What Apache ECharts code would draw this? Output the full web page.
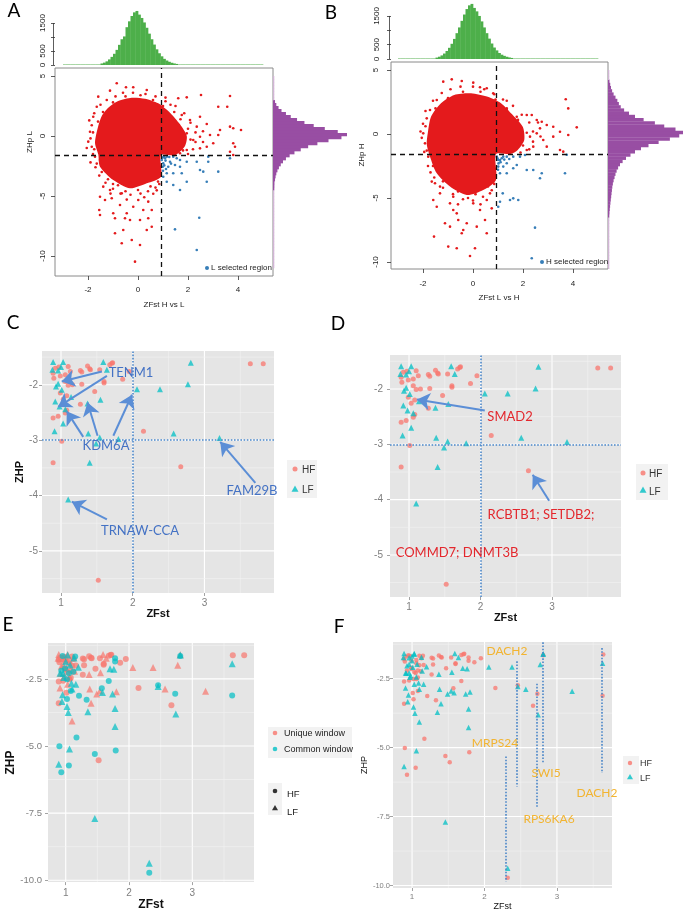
<!DOCTYPE html>
<html><head><meta charset="utf-8">
<script src="https://cdn.jsdelivr.net/npm/echarts@6/dist/echarts.min.js"></script>
<style>html,body{margin:0;padding:0;background:#fff}#c{width:685px;height:912px}</style>
</head><body><div id="c"></div>
<script>
// ---------------- DATA ----------------
// Marginal histograms (counts per bin)
var greenBinStart = -3, greenBinWidth = 0.1;
var greenA = [0,0,0,0,0,0,1,2,3,4, 6,9,14,22,35,55,85,130,200,290, 400,540,720,920,1020,1350,1560,1750,1880,1930,
  1800,1680,1520,1330,1120,920,730,560,420,310, 220,160,115,80,55,38,26,18,12,8, 6,4,3,2,1,1,1,0,0,0,
  0,0,0,0,0,0,0,0,0,0, 0,0,0,0,0,0,0,0,0,0];
var greenB = [0,0,0,0,0,0,1,2,3,4, 5,8,13,20,32,50,80,125,190,280, 390,530,700,900,1100,1330,1550,1740,1870,1920,
  1780,1660,1500,1310,1100,900,710,540,400,300, 210,150,110,78,54,37,25,17,11,7, 5,4,3,2,1,1,1,0,0,0,
  0,0,0,0,0,0,0,0,0,0, 0,0,0,0,0,0,0,0,0,0];
var purpleBinStart = -11, purpleBinWidth = 0.25;
var purpleA = [2,2,3,3, 3,4,4,5, 5,6,6,7, 8,9,10,11, 12,14,15,17, 19,21,24,27, 30,33,36,38,
  40,55,70,90, 120,160,210,270, 350,450,580,750, 950,1200,1500,1850, 2000,1750,1400,1100,
  850,650,480,350, 230,150,90,55, 35,22,15,10, 6,4,3,2];
var purpleB = [3,3,4,4, 5,5,6,7, 8,9,10,12, 14,16,18,20, 25,30,35,40, 48,56,65,75, 85,95,105,115,
  130,150,175,200, 230,270,320,390, 480,600,720,880, 1080,1350,1650,1900, 2000,1800,1500,1250,
  950,720,560,430, 340,290,250,200, 150,110,80,60, 40,30,20,10];

// Dense core of the genome-wide windows (outline, ZFst / ZHp)
var coreA = [[-1.59,0.83],[-1.72,-0.56],[-1.59,-1.53],[-1.52,-2.56],[-0.99,-3.67],[-0.32,-4.36],[0.35,-3.94],[0.92,-3.39],[0.92,-1.61],[1.48,-1.61],[1.88,-0.83],[1.95,0],[1.68,0.97],[1.28,1.94],[0.81,2.72],[0.28,3.11],[-0.25,3.19],[-0.79,2.92],[-1.19,2.36],[-1.45,1.67]];
var coreB = [[-1.81,0.05],[-1.68,1.35],[-1.28,2.4],[-0.75,3.05],[-0.08,3.18],[0.59,2.9],[1.12,2.4],[1.52,1.62],[1.99,0.57],[2.05,-0.47],[1.79,-1.25],[1.5,-1.57],[0.92,-1.57],[0.92,-3.59],[0.41,-4.38],[-0.25,-4.77],[-0.92,-4.11],[-1.45,-3.07],[-1.72,-1.77],[-1.85,-0.8]];
// Scattered windows outside the core
var otherA = [[-0.85,4.39],[-0.48,4.06],[-0.19,4.06],[-1.59,3.28],[-1.12,3.78],[0.35,3.83],[1.61,3.14],[1.95,3.22],[2.52,3.42],[3.68,3.33],[3.57,2.44],[3.21,2.44],
 [3.68,0.78],[3.81,0.64],[4.12,0.5],[3.21,0.08],[2.88,0.08],[2.48,-0.06],[3.01,-0.61],[3.81,-0.61],[3.88,-0.89],[3.68,-1.31],[3.81,-1.58],[2.75,-0.89],[2.48,-1.03],[2.21,-0.33],[1.95,0.22],[2.35,0.78],[2.08,1.33],[1.75,1.75],[2.48,1.61],[2.75,1.0],[3.28,0.5],[1.95,-1.17],[1.68,-1.44],
 [-1.99,-0.47],[-1.92,0.36],[-1.79,1.61],[-1.65,2.44],[-1.85,-0.89],[-1.72,-1.72],[-1.52,-2.0],
 [-1.52,-5.06],[-1.32,-5.33],[-1.55,-6.17],[-1.52,-6.58],[-1.05,-5.19],[-0.99,-6.44],[-0.92,-6.86],[-0.72,-5.75],[-0.52,-6.86],[-0.45,-6.44],[-0.59,-7.83],[-0.65,-8.94],[-0.25,-8.67],[0.08,-9.08],[-0.12,-10.47],[0.35,-7.83],[0.55,-7.56],[0.41,-6.86],[0.21,-6.17],[0.01,-5.33],[0.41,-5.47],[0.61,-4.81],[0.75,-4.53],[-0.19,-5.89],[-0.65,-4.78],[-1.12,-4.5],[-1.39,-4.22],[0.55,-6.17],[0.08,-7.0],[-0.92,-8.11],[-0.32,-7.0],
 [-1.8,0.3],[-1.75,-1.1],[-1.65,-2.3],[-1.45,-3.0],[-1.2,-3.6],[-0.8,-4.1],[-0.5,-4.6],[0.0,-4.5],[0.5,-4.2],[0.8,-3.8],[-1.6,1.2],[-1.4,2.0],[-1.0,2.8],[-0.5,3.3],[0.1,3.4],[0.6,3.0],[1.0,2.5],[1.45,2.0],[1.7,1.4],[2.0,0.6],[2.1,-0.3],[1.8,-1.2],[1.2,-1.5],[-0.3,-3.9],[-1.0,-4.0],
 [-1.85,0.9],[-1.9,-0.2],[-1.8,-1.5],[-1.7,-2.6],[-1.55,-3.3],[-1.3,-3.9],[-1.0,-4.4],[-0.7,-4.8],[-0.3,-4.9],[0.1,-4.8],[0.4,-4.6],[0.7,-4.3],[0.85,-4.0],[-1.75,1.9],[-1.5,2.6],[-1.25,3.0],[-0.9,3.3],[-0.6,3.6],[-0.2,3.6],[0.3,3.5],[0.7,3.3],[1.1,2.9],[1.5,2.5],[1.85,1.9],[2.1,1.1],[2.3,0.3],[2.3,-0.5],[2.2,-1.1],[2.0,-1.5],[1.6,-1.3],[1.3,2.6],[2.6,0.4],[2.6,-0.5],[1.1,3.2],[-1.95,1.3],[-2.05,-1.0],[-1.9,-2.2],[-0.45,-5.3],[0.25,-5.1],[-1.1,-4.8]];
var otherB = [[-1.19,4.09],[-0.85,4.27],[-0.45,4.14],[0.01,4.01],[0.28,3.65],[0.55,3.57],[0.81,3.18],[-1.45,2.66],[-1.72,1.88],[-1.85,1.22],[-1.99,0.05],[-1.92,-0.73],[-1.79,-1.77],[-1.65,-3.72],[-1.52,-3.85],[-1.32,-4.11],
 [1.35,1.88],[2.15,1.48],[2.35,1.48],[2.55,1.09],[2.75,0.96],[2.95,0.7],[3.21,0.57],[3.48,0.18],[3.81,-0.08],[4.15,0.52],[3.81,2.0],[3.71,2.71],[3.21,-0.21],[2.81,-0.47],[2.55,0.05],[2.28,-0.21],[2.95,-0.99],[2.41,-0.99],[3.48,-1.25],[3.61,-1.38],[2.15,-1.25],[1.88,-0.73],[2.68,0.44],[1.75,1.35],
 [-1.59,-5.16],[-1.45,-5.68],[-0.92,-5.42],[-0.79,-5.94],[-0.65,-6.2],[-1.12,-6.98],[-0.92,-7.24],[-0.59,-6.72],[-0.39,-7.5],[-0.25,-6.98],[0.15,-7.24],[0.55,-7.76],[0.48,-6.72],[0.28,-5.94],[0.01,-5.42],[0.55,-5.16],[0.75,-5.81],[-1.56,-8.02],[-0.99,-8.8],[-0.65,-8.93],[0.08,-8.93],[-0.12,-9.53],[-0.45,-7.76],[0.68,-4.64],[-1.32,-4.64],[-0.79,-4.9],
 [-1.9,0.6],[-1.85,-1.3],[-1.6,-2.5],[-1.2,-3.7],[-0.6,-4.5],[0.1,-4.7],[0.6,-4.1],[-1.5,2.0],[-1.0,2.8],[-0.4,3.3],[0.3,3.3],[0.9,2.7],[1.35,2.0],[1.8,1.1],[2.15,0.1],[2.0,-0.9],[1.4,-1.45],[-0.2,-5.0],
 [-2.0,0.8],[-2.05,-0.3],[-1.95,-1.4],[-1.8,-2.5],[-1.55,-3.4],[-1.2,-4.2],[-0.8,-4.7],[-0.4,-5.1],[0.0,-5.2],[0.4,-4.9],[0.75,-4.4],[0.85,-3.9],[-1.9,1.8],[-1.6,2.6],[-1.25,3.2],[-0.9,3.5],[-0.5,3.7],[0.0,3.7],[0.45,3.5],[0.85,3.1],[1.2,2.7],[1.6,2.2],[1.95,1.5],[2.25,0.9],[2.4,0.2],[2.4,-0.6],[2.25,-1.2],[1.9,-1.45],[1.55,-1.35],[2.7,-0.2],[1.35,2.6],[-2.1,0.2],[-1.7,-3.0],[-0.6,-5.5],[0.3,-5.5],[2.6,0.9]];
// Selected windows
var selectedA = [[0.95,-2.0],[0.99,-2.56],[1.01,-2.28],[1.04,-1.72],[1.08,-1.86],[1.15,-1.72],[1.15,-3.11],[1.21,-2.56],[1.28,-2.14],[1.41,-1.72],[1.41,-3.11],[1.48,-2.42],[1.55,-1.86],[1.68,-2.0],[1.68,-2.56],[1.75,-3.11],[1.95,-2.14],[1.95,-3.81],[1.68,-4.5],[1.41,-4.08],[1.15,-3.81],[1.01,-3.39],[2.35,-2.14],[2.48,-2.83],[2.61,-2.97],[2.81,-1.72],[2.81,-2.14],[3.21,-2.97],[2.75,-3.81],[3.68,-1.86],[2.45,-6.81],[1.48,-7.78],[2.35,-9.5],[0.98,-1.8],[1.0,-2.9],[1.05,-2.45],[1.1,-2.05],[1.25,-1.75],[1.32,-2.3],[1.12,-2.75]];
var selectedB = [[0.95,-1.77],[1.08,-2.03],[1.21,-1.77],[1.35,-1.77],[1.61,-1.77],[1.88,-1.77],[1.01,-2.55],[1.08,-3.07],[1.35,-3.07],[1.61,-2.68],[1.75,-2.42],[2.15,-2.81],[2.41,-2.81],[2.75,-3.07],[2.68,-3.46],[3.68,-3.07],[1.19,-4.64],[1.08,-5.29],[1.48,-5.16],[1.61,-5.03],[1.81,-5.16],[1.01,-5.68],[2.48,-7.32],[2.35,-9.71],[1.35,-2.29],[1.21,-2.55],[1.01,-2.03],[2.08,-1.64],[3.75,-1.62],[0.98,-1.9],[1.02,-2.3],[1.1,-2.2],[1.15,-1.9],[1.0,-2.8],[1.25,-2.0],[1.45,-1.95]];
var cutA = {zfst: 0.92, zhp: -1.6};
var cutB = {zfst: 0.92, zhp: -1.57};

// Candidate windows (ZFst, ZHP)
var uniqueHF = [[0.89,-1.79],[0.90,-1.88],[0.97,-1.68],[1.10,-1.67],[1.13,-1.76],[1.06,-1.82],[1.06,-1.94],[1.10,-2.01],[1.16,-2.00],[1.29,-1.99],[1.27,-1.74],[1.29,-1.77],[1.37,-1.66],[1.40,-1.71],[1.41,-1.73],[1.54,-1.73],[1.60,-1.94],[1.60,-1.97],[1.68,-1.64],[1.71,-1.61],[1.72,-1.60],[1.86,-1.90],[1.95,-1.76],[1.47,-2.12],[1.08,-2.20],[1.03,-2.26],[0.99,-2.15],[1.27,-2.35],[1.08,-2.46],[1.06,-2.51],[0.96,-2.57],[0.89,-2.60],[1.01,-3.02],[0.89,-3.41],[2.15,-2.84],[2.67,-3.48],[1.52,-5.53],[3.64,-1.62],[3.82,-1.62],[0.92,-1.70],[0.99,-1.84]];
var uniqueLF = [[0.89,-1.59],[1.03,-1.59],[0.88,-1.73],[1.00,-1.68],[0.96,-1.74],[0.93,-2.03],[0.96,-1.98],[1.01,-2.09],[0.98,-2.39],[0.92,-2.30],[1.06,-2.44],[1.03,-2.70],[0.91,-2.84],[1.14,-2.22],[1.37,-2.34],[1.38,-2.88],[1.55,-2.27],[1.54,-2.95],[1.49,-3.06],[1.40,-3.41],[1.10,-4.07],[1.59,-1.59],[1.64,-1.73],[1.80,-2.98],[2.06,-2.08],[2.38,-2.08],[2.57,-2.88],[2.77,-1.99],[2.81,-1.60],[3.21,-2.96]];
var commonHF = [[0.90,-5.01],[0.93,-5.98],[1.05,-5.73],[1.46,-5.30],[1.79,-5.17],[2.32,-9.72],[2.46,-2.74],[2.73,-3.05],[3.63,-3.12],[1.33,-3.28],[1.21,-3.13],[1.08,-2.95],[1.57,-2.85],[1.68,-2.58],[1.02,-3.25],[2.81,-1.65],[1.17,-4.68],[0.95,-1.65],[1.15,-1.67],[0.99,-2.10],[1.12,-2.23],[1.02,-2.51],[1.78,-1.73],[1.78,-1.85],[1.05,-2.29],[0.93,-2.2]];
var commonLF = [[0.89,-5.68],[1.06,-5.11],[1.46,-7.70],[2.32,-9.37],[1.78,-4.27],[1.78,-3.60],[1.74,-3.06],[2.74,-3.81],[3.63,-1.94],[2.81,-1.61],[1.04,-3.75],[1.02,-3.53],[0.95,-3.09],[0.94,-3.34],[1.35,-3.72],[1.16,-2.70],[1.09,-2.66],[1.58,-3.01],[1.70,-2.12],[1.76,-2.14],[1.03,-1.61],[0.91,-2.29],[2.46,-2.78],[1.07,-1.98],[1.20,-2.07],[0.96,-2.29],[1.00,-1.85],[0.97,-2.45],[1.1,-2.88],[1.13,-1.72]];
var cutCD = {zfst: 2, zhp: -3};

// Tick values
var ticksRX = [-2, 0, 2, 4];
var ticksRY = [-10, -5, 0, 5];
var histTicks = [0, 500, 1000, 1500];
var histLabels = [0, 500, 1500];
var ggX = [1, 2, 3], ggXMinor = [1.5, 2.5, 3.5];
var ggYCD = [-5, -4, -3, -2], ggYCDMinor = [-5.5, -4.5, -3.5, -2.5, -1.5];
var ggYEF = [-10, -7.5, -5, -2.5], ggYEFMinor = [-8.75, -6.25, -3.75, -1.25];

// Annotations (data coordinates: from -> to)
var arrowsC = [[[1.57,-1.76],[1.01,-1.94]],[[1.64,-1.84],[0.96,-2.40]],[[1.31,-2.94],[1.08,-2.48]],[[1.51,-2.92],[1.37,-2.32]],[[1.73,-2.92],[1.99,-2.18]],[[3.71,-3.77],[3.22,-3.03]],[[1.64,-4.43],[1.15,-4.11]]];
var arrowsD = [[[2.06,-2.39],[1.11,-2.19]],[[2.96,-4.02],[2.73,-3.55]]];
var geneLinesF = [[[2.29,-5.32],[2.29,-9.85]],[[2.45,-1.87],[2.45,-6.41]],[[2.72,-2.68],[2.72,-7.19]],[[2.81,-1.18],[2.81,-5.56]],[[3.62,-1.39],[3.62,-5.92]]];

// ---------------- CHART ----------------
var FONT = 'Liberation Sans';
var RED = '#E41A1C', BLUE = '#377EB8', GREEN = '#4DAF4A', PURPLE = '#984EA3';
var PINK = '#F8766D', TEAL = '#00BFC4';
var chart = echarts.init(document.getElementById('c'), null, {renderer: 'canvas', width: 685, height: 912});

function bins(start, width, counts){ return counts.map(function(c, i){ return [start + i*width, start + (i+1)*width, c]; }); }

function vHist(color, light){
  return function(params, api){
    var p0 = api.coord([api.value(0), 0]), p1 = api.coord([api.value(1), api.value(2)]);
    var h = p0[1] - p1[1];
    return {type:'rect', shape:{x:p0[0], y:p0[1]-Math.max(h,1), width:p1[0]-p0[0]+0.35, height:Math.max(h,1)}, style:{fill: h < 1 ? light : color}};
  };
}
function hHist(color, light){
  return function(params, api){
    var p0 = api.coord([0, api.value(0)]), p1 = api.coord([api.value(2), api.value(1)]);
    var w = p1[0] - p0[0];
    return {type:'rect', shape:{x:p0[0], y:p1[1], width:Math.max(w,1.3), height:p0[1]-p1[1]+0.35}, style:{fill: w < 1.3 ? light : color}};
  };
}
function coreSeries(gi, outline){
  return {type:'custom', xAxisIndex:gi, yAxisIndex:gi, silent:true, z:3, data:[[0,0]],
    renderItem:function(params, api){ return {type:'polygon', shape:{points: outline.map(function(d){ return api.coord(d); }), smooth:0.25}, style:{fill: RED}}; }};
}
function ggLines(gi, xMaj, xMin, yMaj, yMin){
  var d = [];
  xMaj.forEach(function(v){ d.push([0, v, 1]); });
  xMin.forEach(function(v){ d.push([0, v, 0]); });
  yMaj.forEach(function(v){ d.push([1, v, 1]); });
  yMin.forEach(function(v){ d.push([1, v, 0]); });
  return {type:'custom', xAxisIndex:gi, yAxisIndex:gi, silent:true, z:1, clip:true, data:d, encode:{x:1, y:1},
    renderItem:function(params, api){
      var cs = params.coordSys, o = api.value(0), v = api.value(1), m = api.value(2);
      var st = {stroke: m ? '#FFFFFF' : '#F3F3F3', lineWidth: m ? 1.1 : 0.6};
      if (o === 0) { var x = api.coord([v, v])[0]; return {type:'line', shape:{x1:x, y1:cs.y, x2:x, y2:cs.y+cs.height}, style:st}; }
      var y = api.coord([v, v])[1]; return {type:'line', shape:{x1:cs.x, y1:y, x2:cs.x+cs.width, y2:y}, style:st};
    }};
}
function pts(gi, data, color, symbol, size, extra){
  var s = {type:'scatter', xAxisIndex:gi, yAxisIndex:gi, data:data, symbol:symbol, symbolSize:size, silent:true, z:4,
    itemStyle:{color:color, opacity: extra && extra.opacity != null ? extra.opacity : 1}};
  if (extra && extra.markLine) s.markLine = extra.markLine;
  return s;
}
function segs(list, style){ return list.map(function(s){ return [{coord:s[0], lineStyle:style}, {coord:s[1]}]; }); }

// axes helpers
function hide(gi, min, max){ return {type:'value', gridIndex:gi, min:min, max:max, show:false}; }
function rAxis(gi, min, max, ticks, labels, margin, rotate){
  return {type:'value', gridIndex:gi, min:min, max:max, axisLine:{show:false, onZero:false}, splitLine:{show:false},
    axisTick:{show:true, customValues:ticks, length:4, lineStyle:{color:'#333', width:0.8}},
    axisLabel:{customValues:labels, fontSize:8, color:'#222', margin:margin, rotate:rotate||0, fontFamily:FONT,
      formatter:function(v){ return String(v); }}};
}
function gAxis(gi, min, max, ticks, fs, margin, dec, name, gap, nfs, bold){
  var a = {type:'value', gridIndex:gi, min:min, max:max, axisLine:{show:false, onZero:false}, splitLine:{show:false},
    axisTick:{show:true, customValues:ticks, length:3, lineStyle:{color:'#8C8C8C', width:0.8}},
    axisLabel:{customValues:ticks, fontSize:fs, color:'#7F7F7F', margin:margin, fontFamily:FONT,
      formatter:function(v){ return dec ? v.toFixed(1) : String(v); }}};
  if (name) { a.name = name; a.nameLocation = 'middle'; a.nameGap = gap;
    a.nameTextStyle = {fontSize:nfs, color:'#111', fontWeight: bold ? 'bold' : 'normal', fontFamily:FONT}; }
  return a;
}

var grids = [
  {left:55, top:68, width:218, height:208, show:true, borderColor:'#8A8A8A', borderWidth:1},
  {left:55, top:5, width:218, height:60},
  {left:273, top:68, width:74, height:208},
  {left:391, top:62, width:217, height:207, show:true, borderColor:'#8A8A8A', borderWidth:1},
  {left:391, top:0, width:217, height:59},
  {left:608, top:62, width:75, height:207},
  {left:42, top:351, width:232, height:242, show:true, backgroundColor:'#E5E5E5', borderWidth:0},
  {left:390, top:355, width:231, height:242, show:true, backgroundColor:'#E5E5E5', borderWidth:0},
  {left:48, top:643, width:206, height:240, show:true, backgroundColor:'#E5E5E5', borderWidth:0},
  {left:393, top:642, width:219, height:246, show:true, backgroundColor:'#E5E5E5', borderWidth:0}
];
var rngA = {x:[-3.32,5.4], y:[-11.667,5.667]};
var rngB = {x:[-3.28,5.4], y:[-10.55,5.625]};
var xAxes = [
  rAxis(0, rngA.x[0], rngA.x[1], ticksRX, ticksRX, 10, 0),
  hide(1, rngA.x[0], rngA.x[1]),
  hide(2, 0, 2000),
  rAxis(3, rngB.x[0], rngB.x[1], ticksRX, ticksRX, 11, 0),
  hide(4, rngB.x[0], rngB.x[1]),
  hide(5, 0, 2000),
  gAxis(6, 0.735, 3.97, ggX, 10, 5, false, 'ZFst', 15, 11, true),
  gAxis(7, 0.734, 3.965, ggX, 10, 5, false, 'ZFst', 15, 11, true),
  gAxis(8, 0.72, 3.975, ggX, 10, 6, false, 'ZFst', 16, 12, true),
  gAxis(9, 0.737, 3.76, ggX, 8, 5, false, 'ZFst', 12, 9, false)
];
var yAxes = [
  rAxis(0, rngA.y[0], rngA.y[1], ticksRY, ticksRY, 8, 90),
  rAxis(1, 0, 2143, histTicks, histLabels, 8, 90),
  hide(2, rngA.y[0], rngA.y[1]),
  rAxis(3, rngB.y[0], rngB.y[1], ticksRY, ticksRY, 11, 90),
  rAxis(4, 0, 2056, histTicks, histLabels, 10, 90),
  hide(5, rngB.y[0], rngB.y[1]),
  gAxis(6, -5.76, -1.39, ggYCD, 10, 4, false, 'ZHP', 14, 11, true),
  gAxis(7, -5.76, -1.386, ggYCD, 10, 7, false, null),
  gAxis(8, -10.07, -1.163, ggYEF, 9.5, 6, true, 'ZHP', 27, 12, true),
  gAxis(9, -10.09, -1.17, ggYEF, 7.5, 3, true, 'ZHP', 21, 9, false)
];

function cutLines(cut){
  return {silent:true, symbol:'none', animation:false, label:{show:false},
    lineStyle:{color:'#111', type:[5,4], width:1.3}, data:[{xAxis:cut.zfst},{yAxis:cut.zhp}]};
}
var dotted = {color:'#4A86C8', type:'dotted', width:1.6};
var arrowStyleC = {color:'#5B8ED6', type:'solid', width:2};
function arrowMarks(list){
  return {silent:true, symbol:['none','arrow'], symbolSize:13, symbolOffset:[0, 0], label:{show:false}, animation:false,
    lineStyle:arrowStyleC, itemStyle:{color:'#5B8ED6'}, data:segs(list, arrowStyleC)};
}

var series = [
  coreSeries(0, coreA),
  pts(0, otherA, RED, 'circle', 2.6),
  pts(0, selectedA, BLUE, 'circle', 2.6, {markLine: cutLines(cutA)}),
  {type:'custom', xAxisIndex:1, yAxisIndex:1, silent:true, data:bins(greenBinStart, greenBinWidth, greenA), encode:{x:[0,1], y:2}, renderItem:vHist(GREEN, '#A9D7A6')},
  {type:'custom', xAxisIndex:2, yAxisIndex:2, silent:true, clip:true, data:bins(purpleBinStart, purpleBinWidth, purpleA), encode:{y:[0,1], x:2}, renderItem:hHist(PURPLE, '#D2B5D6')},
  coreSeries(3, coreB),
  pts(3, otherB, RED, 'circle', 2.6),
  pts(3, selectedB, BLUE, 'circle', 2.6, {markLine: cutLines(cutB)}),
  {type:'custom', xAxisIndex:4, yAxisIndex:4, silent:true, data:bins(greenBinStart, greenBinWidth, greenB), encode:{x:[0,1], y:2}, renderItem:vHist(GREEN, '#A9D7A6')},
  {type:'custom', xAxisIndex:5, yAxisIndex:5, silent:true, clip:true, data:bins(purpleBinStart, purpleBinWidth, purpleB), encode:{y:[0,1], x:2}, renderItem:hHist(PURPLE, '#D2B5D6')},
  // C
  ggLines(6, ggX, ggXMinor, ggYCD, ggYCDMinor),
  pts(6, uniqueHF, PINK, 'circle', 5, {opacity:0.75, markLine:{silent:true, symbol:'none', label:{show:false}, animation:false, lineStyle:dotted, data:[{xAxis:cutCD.zfst},{yAxis:cutCD.zhp}]}}),
  pts(6, uniqueLF, TEAL, 'triangle', 6, {opacity:0.75, markLine:arrowMarks(arrowsC)}),
  // D
  ggLines(7, ggX, ggXMinor, ggYCD, ggYCDMinor),
  pts(7, uniqueHF, PINK, 'circle', 5, {opacity:0.75, markLine:{silent:true, symbol:'none', label:{show:false}, animation:false, lineStyle:dotted, data:[{xAxis:cutCD.zfst},{yAxis:cutCD.zhp}]}}),
  pts(7, uniqueLF, TEAL, 'triangle', 6, {opacity:0.75, markLine:arrowMarks(arrowsD)}),
  // E
  ggLines(8, ggX, ggXMinor, ggYEF, ggYEFMinor),
  pts(8, uniqueHF, PINK, 'circle', 6, {opacity:0.7}),
  pts(8, uniqueLF, PINK, 'triangle', 7, {opacity:0.7}),
  pts(8, commonHF, TEAL, 'circle', 6, {opacity:0.7}),
  pts(8, commonLF, TEAL, 'triangle', 7, {opacity:0.7}),
  // F
  ggLines(9, ggX, ggXMinor, ggYEF, ggYEFMinor),
  pts(9, uniqueHF.concat(commonHF), PINK, 'circle', 4.5, {opacity:0.75}),
  pts(9, uniqueLF.concat(commonLF), TEAL, 'triangle', 5.5, {opacity:0.75, markLine:{silent:true, symbol:'none', label:{show:false}, animation:false, lineStyle:dotted, data:segs(geneLinesF, dotted)}})
];

function txt(x, y, s, fs, color, opt){
  opt = opt || {};
  return {type:'text', x:x, y:y, rotation:opt.rot||0, z:100, silent:true,
    style:{text:s, fontSize:fs, fill:color, fontFamily:opt.font||FONT, fontWeight:opt.bold?'bold':'normal', align:opt.align||'center', verticalAlign:'middle'}};
}
function dot(x, y, r, color, op){ return {type:'circle', z:100, silent:true, shape:{cx:x, cy:y, r:r}, style:{fill:color, opacity:op==null?1:op}}; }
function tri(x, y, s, color, op){ return {type:'polygon', z:100, silent:true, shape:{points:[[x,y-s],[x-s,y+s*0.75],[x+s,y+s*0.75]]}, style:{fill:color, opacity:op==null?1:op}}; }
function box(x, y, w, h){ return {type:'rect', z:99, silent:true, shape:{x:x, y:y, width:w, height:h}, style:{fill:'#F2F2F2'}}; }

var LETTER = {font:'Lato'};
var graphics = [
  txt(14, 11, 'A', 19, '#000', LETTER), txt(331, 13, 'B', 19, '#000', LETTER),
  txt(13, 323, 'C', 19, '#000', LETTER), txt(338, 324, 'D', 19, '#000', LETTER),
  txt(8, 625, 'E', 19, '#000', LETTER), txt(339, 627, 'F', 19, '#000', LETTER),
  // A/B axis titles + legends
  txt(164, 305, 'ZFst H vs L', 8, '#222'), txt(30, 142, 'ZHp L', 8, '#222', {rot:Math.PI/2}),
  txt(499, 298, 'ZFst L vs H', 8, '#222'), txt(362, 155, 'ZHp H', 8, '#222', {rot:Math.PI/2}),
  dot(207, 268, 2, BLUE), txt(211, 268, 'L selected region', 8, '#222', {align:'left'}),
  dot(542, 262, 2, BLUE), txt(546, 262, 'H selected region', 8, '#222', {align:'left'}),
  // C legend + labels
  box(287, 460, 30, 38), dot(295, 469, 2.5, PINK, 0.8), tri(295, 489, 3.5, TEAL, 0.8),
  txt(302, 470, 'HF', 10, '#333', {align:'left'}), txt(302, 490, 'LF', 10, '#333', {align:'left'}),
  txt(131, 373, 'TENM1', 13, '#4472C4', {font:'Lato'}), txt(106, 446, 'KDM6A', 13, '#4472C4', {font:'Lato'}),
  txt(252, 491, 'FAM29B', 13, '#4472C4', {font:'Lato'}), txt(140, 531, 'TRNAW-CCA', 13, '#4472C4', {font:'Lato'}),
  // D legend + labels
  box(636, 464, 32, 36), dot(643, 473, 2.5, PINK, 0.8), tri(643, 490, 3.5, TEAL, 0.8),
  txt(649, 474, 'HF', 10, '#333', {align:'left'}), txt(649, 492, 'LF', 10, '#333', {align:'left'}),
  txt(510, 417, 'SMAD2', 13, '#E3272D', {font:'Lato'}), txt(541, 515, 'RCBTB1; SETDB2;', 13, '#E3272D', {font:'Lato'}),
  txt(457, 553, 'COMMD7; DNMT3B', 13, '#E3272D', {font:'Lato'}),
  // E legends
  box(268, 727, 84, 31), dot(275, 733, 2.3, PINK, 0.8), dot(275, 749, 2.3, TEAL, 0.8),
  txt(284, 734, 'Unique window', 9, '#222', {align:'left'}), txt(284, 750, 'Common window', 9, '#222', {align:'left'}),
  box(268, 783, 14, 32), dot(275, 791, 2.3, '#333'), tri(275, 808, 3, '#333'),
  txt(287, 794, 'HF', 9.5, '#222', {align:'left'}), txt(287, 812, 'LF', 9.5, '#222', {align:'left'}),
  // F legend + labels
  box(623, 756, 16, 28), dot(630, 763, 2.2, PINK, 0.8), tri(630, 777, 3, TEAL, 0.8),
  txt(640, 764, 'HF', 9, '#333', {align:'left'}), txt(640, 779, 'LF', 9, '#333', {align:'left'}),
  txt(507, 651, 'DACH2', 12, '#F2B431', {font:'Lato'}), txt(495, 743, 'MRPS24', 12, '#F2B431', {font:'Lato'}),
  txt(546, 773, 'SWI5', 12, '#F2B431', {font:'Lato'}), txt(597, 793, 'DACH2', 12, '#F2B431', {font:'Lato'}),
  txt(549, 819, 'RPS6KA6', 12, '#F2B431', {font:'Lato'})
];

chart.setOption({animation:false, backgroundColor:'#fff', grid:grids, xAxis:xAxes, yAxis:yAxes, series:series, graphic:graphics});

// R-style axis lines of the marginal histograms (from 0 to the last tick)
function histAxisLine(gi, xmin){
  var p0 = chart.convertToPixel({gridIndex:gi}, [xmin, histTicks[0]]);
  var p1 = chart.convertToPixel({gridIndex:gi}, [xmin, histTicks[histTicks.length-1]]);
  return {type:'line', z:100, silent:true, shape:{x1:p0[0]-1.5, y1:p0[1], x2:p1[0]-1.5, y2:p1[1]}, style:{stroke:'#333', lineWidth:0.8}};
}
chart.setOption({graphic: graphics.concat([histAxisLine(1, rngA.x[0]), histAxisLine(4, rngB.x[0])])});
</script></body></html>
